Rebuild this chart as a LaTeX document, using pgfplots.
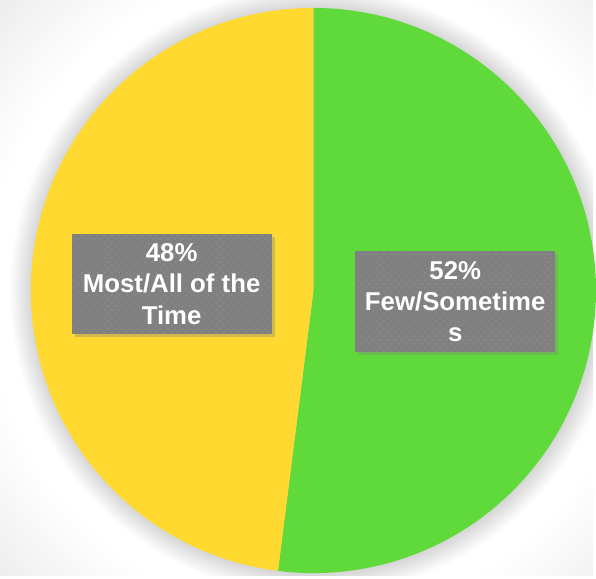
\documentclass[border=0pt]{standalone}
\usepackage{pgfplots}
\pgfplotsset{compat=1.18}
\usepackage{pgfplotstable}
\usepackage{fontspec}
\setmainfont{Liberation Sans}
\usetikzlibrary{shadows,patterns.meta}

\definecolor{pieYellow}{HTML}{FFD930}
\definecolor{pieGreen}{HTML}{60DA3A}
\definecolor{lblGray}{HTML}{808080}
\definecolor{dotGray}{HTML}{8E8E8E}
\definecolor{bgGray}{HTML}{EBEBEB}

% soft glow round the pie, then a light grey page
% (25bp of the shading is mapped to a radius of 440bp)
\pgfdeclareradialshading{pieglow}{\pgfpoint{0bp}{0bp}}{%
  color(0bp)=(white!84!black);
  color(16.14bp)=(white!84!black);
  color(17.4bp)=(white);
  color(18.6bp)=(white);
  color(25bp)=(bgGray);
  color(50bp)=(bgGray)}

% shares in percent: Few/Sometimes, Most/All of the Time
\pgfplotstableread{
share
52
48
}\pietable

\tikzset{lbl/.style={
  fill=lblGray,
  drop shadow={shadow xshift=3bp,shadow yshift=-3bp,opacity=0.35},
  postaction={pattern={Dots[distance=5.3bp,angle=45,radius=0.9bp]},pattern color=dotGray},
  minimum width=201bp,minimum height=101bp,inner sep=0pt,
  text=white,align=center,
  font=\bfseries\fontsize{26}{31.5}\selectfont}}

\begin{document}
\begin{tikzpicture}
\pgfplotstablegetelem{0}{share}\of\pietable \let\shareA\pgfplotsretval
\pgfplotstablegetelem{1}{share}\of\pietable \let\shareB\pgfplotsretval
\pgfmathsetmacro\angA{90-3.6*\shareA}
\pgfmathsetmacro\angB{\angA+360}
\begin{axis}[
  width=596bp,height=578bp,scale only axis,
  hide axis,clip=false,
  xmin=0,xmax=596,ymin=0,ymax=578,y dir=reverse]
\fill[bgGray] (axis cs:0,0) rectangle (axis cs:596,578);
\begin{scope}
  \clip (axis cs:0,0) rectangle (axis cs:596,578);
  \shade[shading=pieglow] (axis cs:315,292) circle[radius=440bp];
\end{scope}
\fill[pieGreen] (axis cs:315,292) -- ++(90:284bp)
  arc[start angle=90,end angle=\angA,radius=284bp] -- cycle;
\fill[pieYellow] (axis cs:315,292) -- ++(90:284bp)
  arc[start angle=90,end angle=\angB,radius=284bp] -- cycle;
\node[lbl] at (axis cs:172.5,285.5) {\shareB\%\\Most/All of the\\Time};
\node[lbl] at (axis cs:457.5,303) {\shareA\%\\Few/Sometime\\s};
\end{axis}
\end{tikzpicture}
\end{document}
